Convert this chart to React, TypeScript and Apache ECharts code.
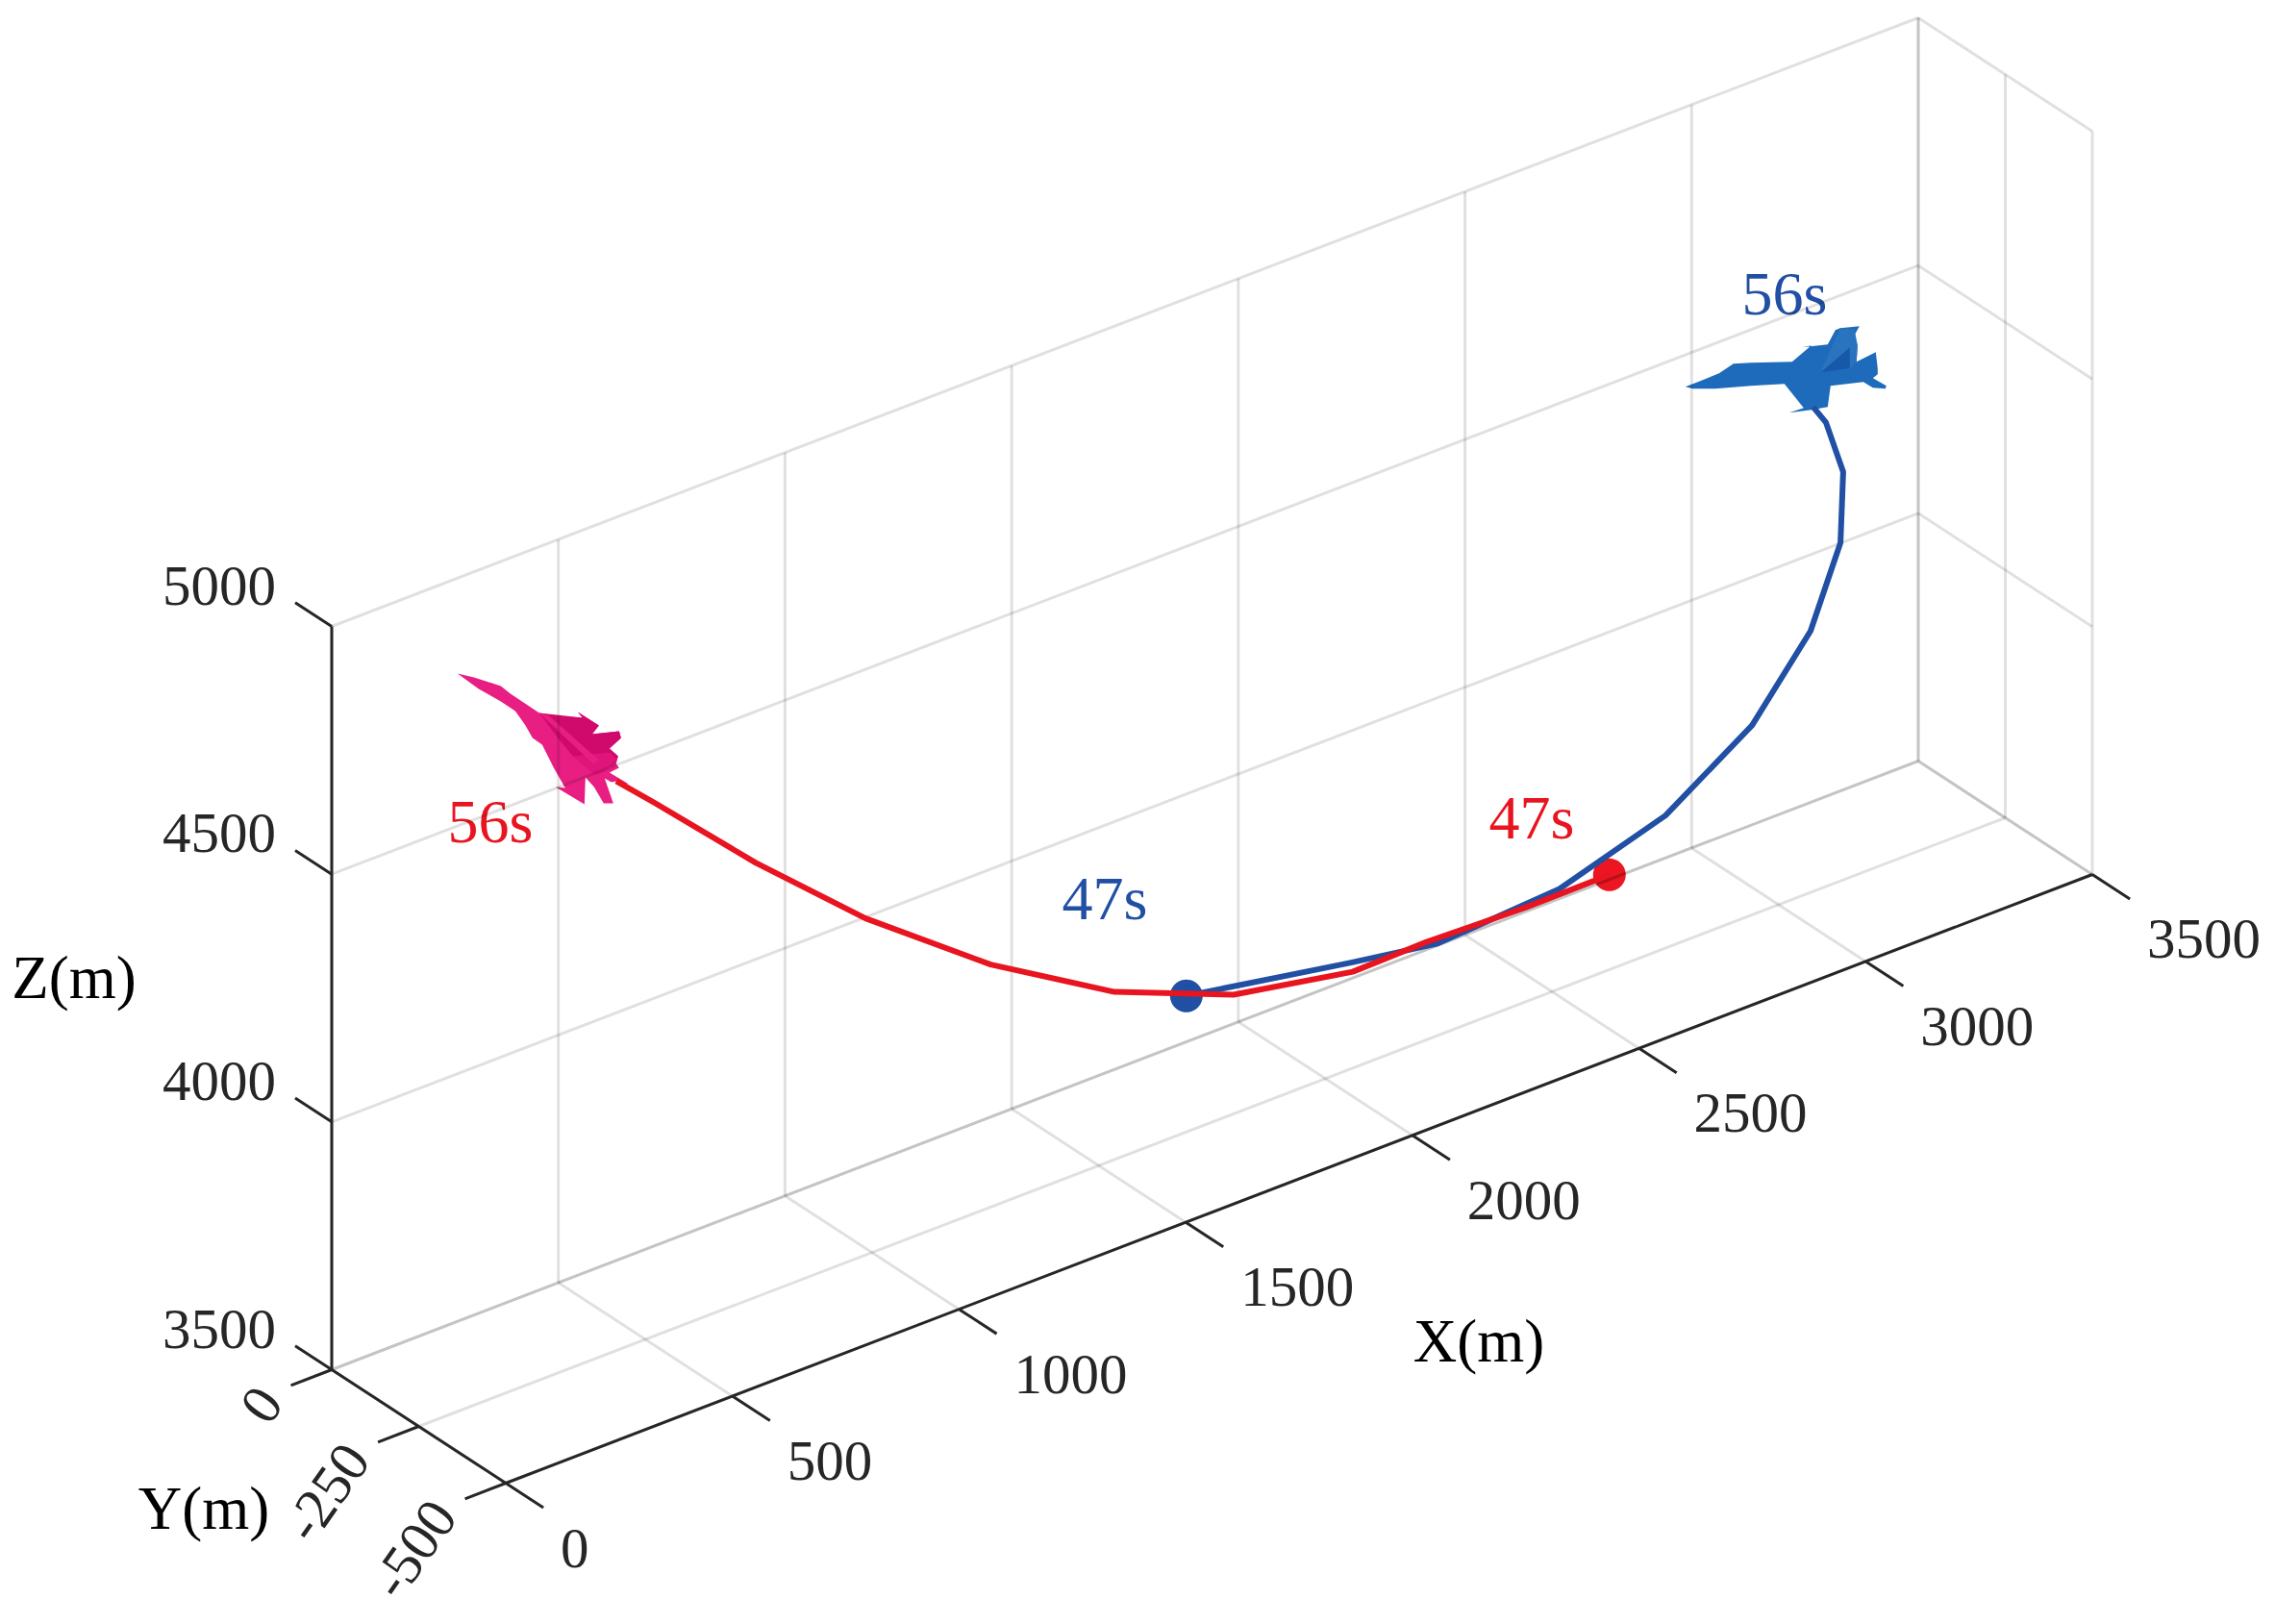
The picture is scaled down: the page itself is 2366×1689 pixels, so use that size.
import React, { useEffect, useRef } from 'react';
import * as echarts from 'echarts';

const xTicks = [0, 500, 1000, 1500, 2000, 2500, 3000, 3500];
const yTicks = [0, -250, -500];
const zTicks = [3500, 4000, 4500, 5000];

// flight paths in metres, 47s -> 56s. y can't be read from a single view so it is held per aircraft
const redX = [2665, 2481, 2262, 2099, 1836, 1573, 1300, 1024, 782, 557, 474];
const redY = [-200, -200, -200, -200, -200, -200, -200, -200, -200, -200, -200];
const redZ = [3655, 3654, 3661, 3658, 3704, 3802, 3953, 4143, 4340, 4541, 4613];

const blueX = [1655, 2016, 2209, 2478, 2712, 2903, 3032, 3098, 3104, 3066, 3038];
const blueY = [-300, -300, -300, -300, -300, -300, -300, -300, -300, -300, -300];
const blueZ = [3811, 3751, 3722, 3738, 3804, 3919, 4064, 4219, 4360, 4473, 4514];

// aircraft outlines, offsets from the end of the path
const pinkBody = [[-165, -112], [-148, -108], [-120, -99], [-110, -91], [-80, -71], [-63, -68], [-35, -66], [-40, -72], [-18, -58], [-25, -49], [3, -52], [5, -45], [-7, -34], [2, -26], [0, -18], [3, -14], [-7, -9], [13, 3], [0, 0], [-5, 1], [-12, -3], [-3, 23], [-13, 23], [-23, 6], [-32, -4], [-33, 24], [-53, 12], [-63, 6], [-53, 7], [-65, -14], [-77, -38], [-87, -45], [-95, -59], [-105, -73], [-120, -83], [-143, -96]];
const pinkWing = [[-80, -71], [-35, -66], [-40, -72], [-18, -58], [-25, -49], [3, -52], [5, -45], [-7, -34], [2, -26], [-2, -18], [-20, -8], [-45, -26], [-60, -44]];
const pinkTail = [[-45, -26], [-7, -30], [0, -23], [-13, -9], [-23, -7]];
const pinkRidge = [[-80, -71], [-70, -68], [-18, -22], [-24, -18]];
const blueBody = [[-133, -21], [-115, -28], [-98, -35], [-83, -45], [-65, -46], [-22, -47], [-2, -64], [-12, -62], [15, -65], [23, -80], [28, -82], [48, -84], [43, -75], [46, -64], [45, -47], [65, -57], [67, -40], [67, -34], [62, -30], [76, -22], [75, -19], [62, -20], [52, -26], [18, -22], [15, 0], [-2, 3], [-25, 6], [-10, 1], [-30, -24], [-65, -22], [-102, -19], [-125, -19]];
const blueFin = [[8, -37], [28, -82], [43, -80], [46, -64], [45, -47], [38, -39]];
const blueFinShade = [[8, -36], [38, -62], [38, -40]];

const project = (x: number, y: number, z: number) => [
  345 + x * 0.47143 - y * 0.362,
  1424.5 - x * 0.18086 - y * 0.236 - (z - 3500) * 0.51533,
];

const segment = (a: number[], b: number[], color: string, width: number) => ({
  type: 'line',
  data: [project(a[0], a[1], a[2]), project(b[0], b[1], b[2])],
  showSymbol: false,
  silent: true,
  clip: false,
  lineStyle: { color, width, cap: 'butt' },
});

const path = (xs: number[], ys: number[], zs: number[], color: string) => ({
  type: 'line',
  data: xs.map((x, i) => project(x, ys[i], zs[i])),
  showSymbol: false,
  silent: true,
  clip: false,
  lineStyle: { color, width: 6, join: 'round' },
});

const startDot = (xs: number[], ys: number[], zs: number[], color: string) => ({
  type: 'scatter',
  data: [project(xs[0], ys[0], zs[0])],
  symbolSize: 34,
  silent: true,
  clip: false,
  itemStyle: { color, opacity: 1 },
});

const aircraft = (xs: number[], ys: number[], zs: number[], shapes: { points: number[][]; fill: string }[]) => {
  const n = xs.length - 1;
  return {
    type: 'custom',
    coordinateSystem: 'cartesian2d',
    data: [project(xs[n], ys[n], zs[n])],
    silent: true,
    clip: false,
    renderItem: (_: any, api: any) => {
      const [cx, cy] = api.coord([api.value(0), api.value(1)]);
      return {
        type: 'group',
        x: cx,
        y: cy,
        children: shapes.map((s) => ({ type: 'polygon', shape: { points: s.points }, style: { fill: s.fill } })),
      };
    },
  };
};

const FONT = "'Liberation Serif', 'Times New Roman', serif";

const tickLabels = (
  items: { pos: number[]; text: string }[],
  dx: number,
  dy: number,
  align: string,
  rotation = 0,
) => ({
  type: 'custom',
  coordinateSystem: 'cartesian2d',
  data: items.map((d) => d.pos),
  silent: true,
  clip: false,
  renderItem: (params: any, api: any) => {
    const [cx, cy] = api.coord([api.value(0), api.value(1)]);
    return {
      type: 'text',
      x: cx + dx,
      y: cy + dy,
      rotation,
      style: {
        text: items[params.dataIndex].text,
        fill: '#262626',
        font: `59px ${FONT}`,
        align,
        verticalAlign: 'middle',
      },
    };
  },
});

const caption = (text: string, x: number, y: number, fill: string, size: number) => ({
  type: 'text',
  x,
  y,
  silent: true,
  style: { text, fill, font: `${size}px ${FONT}`, align: 'center', verticalAlign: 'middle' },
});

export default function App() {
  const chartRef = useRef<HTMLDivElement>(null);

  useEffect(() => {
    if (!chartRef.current) return;
    const chart = echarts.init(chartRef.current, undefined, { renderer: 'svg' });

    const gridColor = 'rgba(0,0,0,0.12)';
    const axisColor = '#262626';
    const gridLines: any[] = [];
    // back wall
    xTicks.forEach((x) => gridLines.push(segment([x, 0, 3500], [x, 0, 5000], gridColor, 3)));
    zTicks.forEach((z) => gridLines.push(segment([0, 0, z], [3500, 0, z], gridColor, 3)));
    // floor
    xTicks.forEach((x) => gridLines.push(segment([x, 0, 3500], [x, -500, 3500], gridColor, 3)));
    yTicks.forEach((y) => gridLines.push(segment([0, y, 3500], [3500, y, 3500], gridColor, 3)));
    // right wall
    yTicks.forEach((y) => gridLines.push(segment([3500, y, 3500], [3500, y, 5000], gridColor, 3)));
    zTicks.forEach((z) => gridLines.push(segment([3500, 0, z], [3500, -500, z], gridColor, 3)));

    const axes: any[] = [
      segment([0, -500, 3500], [3500, -500, 3500], axisColor, 3),
      segment([0, 0, 3500], [0, -500, 3500], axisColor, 3),
      segment([0, 0, 3500], [0, 0, 5000], axisColor, 3),
    ];
    xTicks.forEach((x) => axes.push(segment([x, -500, 3500], [x, -608, 3500], axisColor, 3)));
    yTicks.forEach((y) => axes.push(segment([0, y, 3500], [-90, y, 3500], axisColor, 3)));
    zTicks.forEach((z) => axes.push(segment([0, 0, z], [0, 105, z], axisColor, 3)));

    chart.setOption({
      animation: false,
      backgroundColor: '#ffffff',
      grid: { left: 0, right: 0, top: 0, bottom: 0 },
      xAxis: { type: 'value', min: 0, max: 2366, show: false },
      yAxis: { type: 'value', min: 0, max: 1689, inverse: true, show: false },
      series: [
        ...gridLines,
        ...axes,
        tickLabels(xTicks.map((x) => ({ pos: project(x, -500, 3500), text: String(x) })), 57, 67, 'left'),
        tickLabels(yTicks.map((y) => ({ pos: project(0, y, 3500), text: String(y) })), -65, 24, 'right', (55 * Math.PI) / 180),
        tickLabels(zTicks.map((z) => ({ pos: project(0, 0, z), text: String(z) })), -58, -43, 'right'),
        path(blueX, blueY, blueZ, '#214fa3'),
        startDot(blueX, blueY, blueZ, '#214fa3'),
        path(redX, redY, redZ, '#e8141f'),
        startDot(redX, redY, redZ, '#ec1622'),
        aircraft(blueX, blueY, blueZ, [
          { points: blueBody, fill: '#1e6bbb' },
          { points: blueFin, fill: '#2a74bf' },
          { points: blueFinShade, fill: '#1659ab' },
        ]),
        aircraft(redX, redY, redZ, [
          { points: pinkBody, fill: '#e81e82' },
          { points: pinkWing, fill: '#d00a6c' },
          { points: pinkTail, fill: '#e0147a' },
          { points: pinkRidge, fill: '#e81e82' },
        ]),
      ],
      graphic: [
        caption('56s', 1856, 305, '#214fa3', 64),
        caption('56s', 510, 854, '#e8141f', 64),
        caption('47s', 1149, 934, '#214fa3', 64),
        caption('47s', 1593, 850, '#e8141f', 64),
        caption('X(m)', 1538, 1395, '#000000', 63),
        caption('Y(m)', 212, 1569, '#000000', 63),
        caption('Z(m)', 77, 1017, '#000000', 63),
      ],
    });

    return () => chart.dispose();
  }, []);

  return <div ref={chartRef} style={{ position: 'absolute', left: 0, top: 0, width: 2366, height: 1689 }} />;
}
